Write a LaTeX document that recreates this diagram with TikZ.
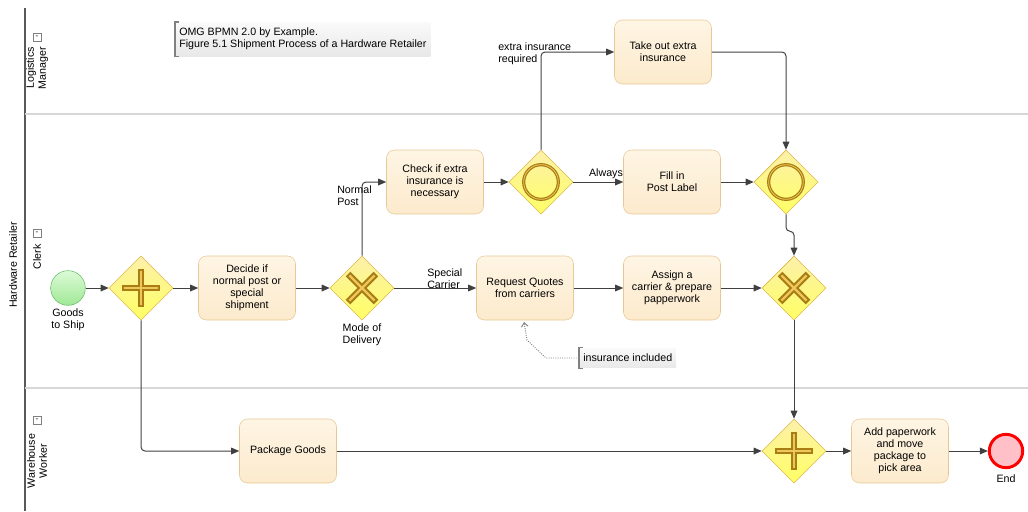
\documentclass[tikz,border=0pt]{standalone}
\usepackage{fontspec}
\setmainfont{Liberation Sans}
\usepackage{tikz}
\usetikzlibrary{arrows.meta}
\usetikzlibrary{shapes.geometric}

\definecolor{taskTop}{RGB}{254,245,228}
\definecolor{taskBot}{RGB}{252,234,204}
\definecolor{taskLine}{RGB}{232,200,150}
\definecolor{gwTop}{RGB}{252,240,170}
\definecolor{gwBot}{RGB}{255,255,100}
\definecolor{gwLine}{RGB}{222,182,70}
\definecolor{markDark}{RGB}{170,124,20}
\definecolor{markLight}{RGB}{236,200,90}
\definecolor{flowLine}{RGB}{64,64,64}
\definecolor{laneLine}{RGB}{215,215,215}

\begin{document}
\begin{tikzpicture}[x=0.75pt,y=0.75pt,yscale=-1,xscale=1,
	txt/.style={font=\fontsize{8}{9}\selectfont, inner sep=0.75pt},
	task/.style={txt, rectangle, rounded corners=6pt, draw=taskLine, top color=taskTop, bottom color=taskBot, minimum width=72.75pt, minimum height=48pt, align=center},
	gateway/.style={diamond, draw=gwLine, top color=gwTop, bottom color=gwBot, minimum width=48pt, minimum height=48pt, inner sep=0pt},
	flow/.style={draw=flowLine, line width=0.75pt, rounded corners=3pt, -{Triangle[length=6pt,width=5pt]}},
	markout/.style={draw=markDark, line width=5pt},
	markin/.style={draw=markLight, line width=1.8pt},
	annot/.style={txt, inner xsep=3pt, inner ysep=4.5pt, top color=gray!4, bottom color=gray!18, align=left},
	minbox/.style={draw=gray, fill=white, minimum size=6pt, inner sep=0pt, font=\fontsize{6}{6}\selectfont}
	]
	\useasboundingbox (0,0) rectangle (1028,511);
	
	%Pool and lanes
	\draw [gray!70!black, line width=0.9pt] (25,8) -- (25,511) ;
	\draw [laneLine, line width=1.3pt] (25,114) -- (1028,114) ;
	\draw [laneLine, line width=1.3pt] (25,388) -- (1028,388) ;
	
	% Text Node
	\node [txt, rotate=90] (pool) at (13,265) {Hardware Retailer};
	\node [txt, rotate=90, align=center] (lmgr) at (37,68) {Logistics\\Manager};
	\node [txt, rotate=90] (clerk) at (37,257) {Clerk};
	\node [txt, rotate=90, align=center] (wwrk) at (37,461) {Warehouse\\Worker};
	\foreach \y [count=\i] in {37,233,420}
		\node [minbox] (min\i) at (37,\y) {-};
	
	%Annotations
	\node [annot, anchor=north west] (omg) at (175,22) {OMG BPMN 2.0 by Example.\\Figure 5.1 Shipment Process of a Hardware Retailer};
	\node [annot, anchor=west] (incl) at (579,358) {insurance included};
	\foreach \a in {omg,incl}
		\draw [gray, line width=0.9pt] ([xshift=3pt]\a.north west) -- (\a.north west) -- (\a.south west) -- ([xshift=3pt]\a.south west) ;
	
	%Events
	\node [circle, draw={rgb,255:red,96;green,190;blue,96}, top color={rgb,255:red,220;green,250;blue,214}, bottom color={rgb,255:red,160;green,232;blue,150}, minimum size=26pt, inner sep=0pt] (start) at (68,288) {};
	\node [circle, draw=red, line width=2.2pt, fill={rgb,255:red,255;green,192;blue,200}, minimum size=25pt, inner sep=0pt] (end) at (1006,451) {};
	\node [txt, align=center] (startlbl) at (68,320) {Goods\\to Ship};
	\node [txt] (endlbl) at (1006,479) {End};
	
	%Gateways
	\node [gateway] (par1) at (141,288) {};
	\node [gateway] (xor1) at (362,288) {};
	\node [gateway] (inc1) at (541,182) {};
	\node [gateway] (inc2) at (786,182) {};
	\node [gateway] (xor2) at (794,288) {};
	\node [gateway] (par2) at (794,451) {};
	\node [txt, align=center] (xorlbl) at (362,335) {Mode of\\Delivery};
	
	%Gateway markers
	\foreach \g in {par1,par2} {
		\draw [markout] ([xshift=-14.6pt]\g.center) -- ([xshift=14.6pt]\g.center) ;
		\draw [markout] ([yshift=-14.6pt]\g.center) -- ([yshift=14.6pt]\g.center) ;
		\draw [markin] ([xshift=-13pt]\g.center) -- ([xshift=13pt]\g.center) ;
		\draw [markin] ([yshift=-13pt]\g.center) -- ([yshift=13pt]\g.center) ;
	}
	\foreach \g in {xor1,xor2} {
		\draw [markout] ([shift={(-10.5pt,-10.5pt)}]\g.center) -- ([shift={(10.5pt,10.5pt)}]\g.center) ;
		\draw [markout] ([shift={(-10.5pt,10.5pt)}]\g.center) -- ([shift={(10.5pt,-10.5pt)}]\g.center) ;
		\draw [markin] ([shift={(-9.4pt,-9.4pt)}]\g.center) -- ([shift={(9.4pt,9.4pt)}]\g.center) ;
		\draw [markin] ([shift={(-9.4pt,9.4pt)}]\g.center) -- ([shift={(9.4pt,-9.4pt)}]\g.center) ;
	}
	\foreach \g in {inc1,inc2} {
		\draw [draw=markDark, line width=2.4pt] (\g.center) circle (13pt) ;
		\draw [draw=markLight, line width=0.6pt] (\g.center) circle (13pt) ;
	}
	
	%Tasks
	\node [task] (decide) at (247,288) {Decide if\\normal post or\\special\\shipment};
	\node [task] (check) at (435,182) {Check if extra\\insurance is\\necessary};
	\node [task] (takeout) at (663,52) {Take out extra\\insurance};
	\node [task] (fill) at (672,182) {Fill in\\Post Label};
	\node [task] (quotes) at (525,288) {Request Quotes\\from carriers};
	\node [task] (assign) at (672,288) {Assign a\\carrier \& prepare\\papperwork};
	\node [task] (package) at (288,451) {Package Goods};
	\node [task] (paperwork) at (900,451) {Add paperwork\\and move\\package to\\pick area};
	
	%Sequence flows
	\draw [flow] (start) -- (par1) ;
	\draw [flow] (par1) -- (decide) ;
	\draw [flow] (decide) -- (xor1) ;
	\draw [flow] (xor1.north) |- (check.west) ;
	\draw [flow] (xor1) -- (quotes) ;
	\draw [flow] (check) -- (inc1) ;
	\draw [flow] (inc1.north) |- (takeout.west) ;
	\draw [flow] (inc1) -- (fill) ;
	\draw [flow] (takeout.east) -| (inc2.north) ;
	\draw [flow] (fill) -- (inc2) ;
	\draw [flow] (inc2.south) -- ++(0,17) -| (xor2.north) ;
	\draw [flow] (quotes) -- (assign) ;
	\draw [flow] (assign) -- (xor2) ;
	\draw [flow] (xor2) -- (par2) ;
	\draw [flow] (par1.south) |- (package.west) ;
	\draw [flow] (package) -- (par2) ;
	\draw [flow] (par2) -- (paperwork) ;
	\draw [flow] (paperwork) -- (end) ;
	
	%Association
	\coordinate (assocend) at (524,322);
	\draw [gray, densely dotted, line width=0.7pt, -{Straight Barb[length=3pt,width=5pt]}] (incl.west) -- (546,358) -- (527,340) -- (assocend) ;
	
	% Text Node
	\node [txt, anchor=west, align=left] (normlbl) at (336,196) {Normal\\Post};
	\node [txt, anchor=west, align=left] (extralbl) at (497,54) {extra insurance\\required};
	\node [txt] (alwlbl) at (606,174) {Always};
	\node [txt, anchor=west, align=left] (speclbl) at (426,279) {Special\\Carrier};
	
\end{tikzpicture}
\end{document}
